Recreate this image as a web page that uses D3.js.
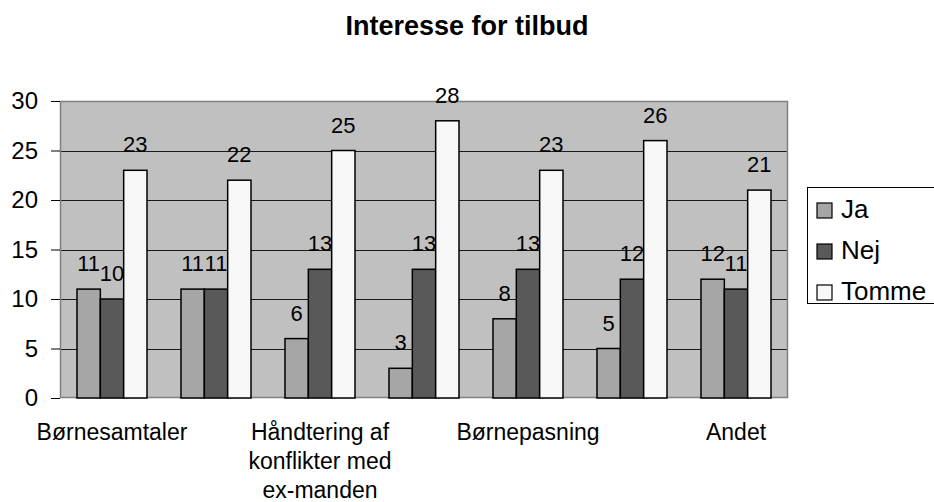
<!DOCTYPE html>
<html lang="da">
<head>
    <meta charset="UTF-8">
    <title>Interesse for tilbud</title>
    <script src="https://d3js.org/d3.v7.min.js"></script>
    <style>
        body { margin: 0; background: #ffffff; }
        svg { font-family: "Liberation Sans", Arial, sans-serif; }
    </style>
</head>
<body>
    <svg width="934" height="502"></svg>

    <script>
        // Data
        const categories = ["Børnesamtaler", "", "Håndtering af konflikter med ex-manden", "", "Børnepasning", "", "Andet"];
        const seriesNames = ["Ja", "Nej", "Tomme"];
        const ja = [11, 11, 6, 3, 8, 5, 12];
        const nej = [10, 11, 13, 13, 13, 12, 11];
        const tomme = [23, 22, 25, 28, 23, 26, 21];
        const yTicks = [0, 5, 10, 15, 20, 25, 30];

        const seriesValues = [ja, nej, tomme];
        const colors = ["#a6a6a6", "#595959", "#f8f8f8"];

        const width = 934;
        const height = 502;
        const plot = {left: 60, top: 101, right: 788, bottom: 398};

        const svg = d3.select("svg")
            .attr("width", width)
            .attr("height", height);

        // Scales
        const x0 = d3.scaleBand()
            .domain(d3.range(categories.length))
            .range([plot.left, plot.right])
            .paddingInner(34 / 104)
            .paddingOuter(17 / 104);

        const x1 = d3.scaleBand()
            .domain(seriesNames)
            .range([0, x0.bandwidth()]);

        const y = d3.scaleLinear()
            .domain([0, 30])
            .range([plot.bottom, plot.top]);

        // Plot area background
        svg.append("rect")
            .attr("x", plot.left)
            .attr("y", plot.top)
            .attr("width", plot.right - plot.left)
            .attr("height", plot.bottom - plot.top)
            .attr("fill", "#c0c0c0");

        // Gridlines
        svg.append("g")
            .selectAll("line")
            .data(yTicks.filter(d => d > 0 && d < 30))
            .enter()
            .append("line")
            .attr("x1", plot.left)
            .attr("x2", plot.right)
            .attr("y1", d => Math.round(y(d)) + 0.5)
            .attr("y2", d => Math.round(y(d)) + 0.5)
            .attr("stroke", "#1a1a1a")
            .attr("stroke-width", 1);

        // Plot border
        svg.append("rect")
            .attr("x", plot.left + 0.5)
            .attr("y", plot.top + 0.5)
            .attr("width", plot.right - plot.left - 1)
            .attr("height", plot.bottom - plot.top - 1)
            .attr("fill", "none")
            .attr("stroke", "#808080")
            .attr("stroke-width", 1.5);

        // Y axis
        const yAxis = svg.append("g")
            .attr("transform", `translate(${plot.left},0)`)
            .call(d3.axisLeft(y).tickValues(yTicks).tickSize(9).tickPadding(13));
        yAxis.select(".domain").remove();
        yAxis.selectAll(".tick line").attr("stroke", "#000");
        yAxis.selectAll(".tick text")
            .attr("fill", "#000")
            .style("font-size", "24px")
            .style("font-family", "'Liberation Sans', Arial, sans-serif");

        // Bars
        const groups = svg.append("g")
            .selectAll("g")
            .data(categories.map((c, i) => i))
            .enter()
            .append("g")
            .attr("transform", i => `translate(${x0(i)},0)`);

        groups.selectAll("rect")
            .data(i => seriesNames.map((s, k) => ({s: s, k: k, v: seriesValues[k][i]})))
            .enter()
            .append("rect")
            .attr("x", d => x1(d.s))
            .attr("y", d => y(d.v))
            .attr("width", x1.bandwidth())
            .attr("height", d => y(0) - y(d.v))
            .attr("fill", d => colors[d.k])
            .attr("stroke", "#000")
            .attr("stroke-width", 1.5);

        // Value labels
        groups.selectAll("text")
            .data(i => seriesNames.map((s, k) => ({s: s, k: k, v: seriesValues[k][i]})))
            .enter()
            .append("text")
            .attr("x", d => x1(d.s) + x1.bandwidth() / 2)
            .attr("y", d => y(d.v) - 18)
            .attr("text-anchor", "middle")
            .style("font-size", "22px")
            .text(d => d.v);

        // Category axis (Excel skips every other label)
        const xAxis = svg.append("g")
            .attr("transform", `translate(0,${plot.bottom})`)
            .call(d3.axisBottom(x0).tickSize(0).tickFormat(i => categories[i]));
        xAxis.select(".domain").remove();
        xAxis.selectAll(".tick text")
            .attr("fill", "#000")
            .style("font-size", "23px")
            .style("font-family", "'Liberation Sans', Arial, sans-serif")
            .each(function(i) { wrap(d3.select(this), categories[i], 160); });

        function wrap(text, label, maxWidth) {
            const words = label.split(" ");
            const lines = [];
            let line = [];
            text.text(null);
            const probe = text.append("tspan");
            words.forEach(w => {
                line.push(w);
                probe.text(line.join(" "));
                if (probe.node().getComputedTextLength() > maxWidth && line.length > 1) {
                    line.pop();
                    lines.push(line.join(" "));
                    line = [w];
                }
            });
            lines.push(line.join(" "));
            probe.remove();
            text.attr("y", 0);
            lines.forEach((l, n) => {
                text.append("tspan")
                    .attr("x", 0)
                    .attr("y", 42 + n * 29)
                    .text(l);
            });
            text.attr("dy", null);
        }

        // Title
        svg.append("text")
            .attr("x", 467)
            .attr("y", 35)
            .attr("text-anchor", "middle")
            .style("font-size", "27px")
            .style("font-weight", "bold")
            .text("Interesse for tilbud");

        // Legend
        const legend = svg.append("g").attr("transform", "translate(807,187)");
        legend.append("rect")
            .attr("x", 0.5)
            .attr("y", 0.5)
            .attr("width", 140)
            .attr("height", 116)
            .attr("fill", "#fff")
            .attr("stroke", "#000")
            .attr("stroke-width", 1);

        const items = legend.selectAll(".item")
            .data(seriesNames)
            .enter()
            .append("g")
            .attr("class", "item")
            .attr("transform", (d, k) => `translate(10,${31 + k * 41})`);

        items.append("rect")
            .attr("x", 0)
            .attr("y", -15)
            .attr("width", 15)
            .attr("height", 15)
            .attr("fill", (d, k) => colors[k])
            .attr("stroke", "#000")
            .attr("stroke-width", 1.2);

        items.append("text")
            .attr("x", 24)
            .attr("y", 0)
            .style("font-size", "26px")
            .text(d => d);
    </script>
</body>
</html>
